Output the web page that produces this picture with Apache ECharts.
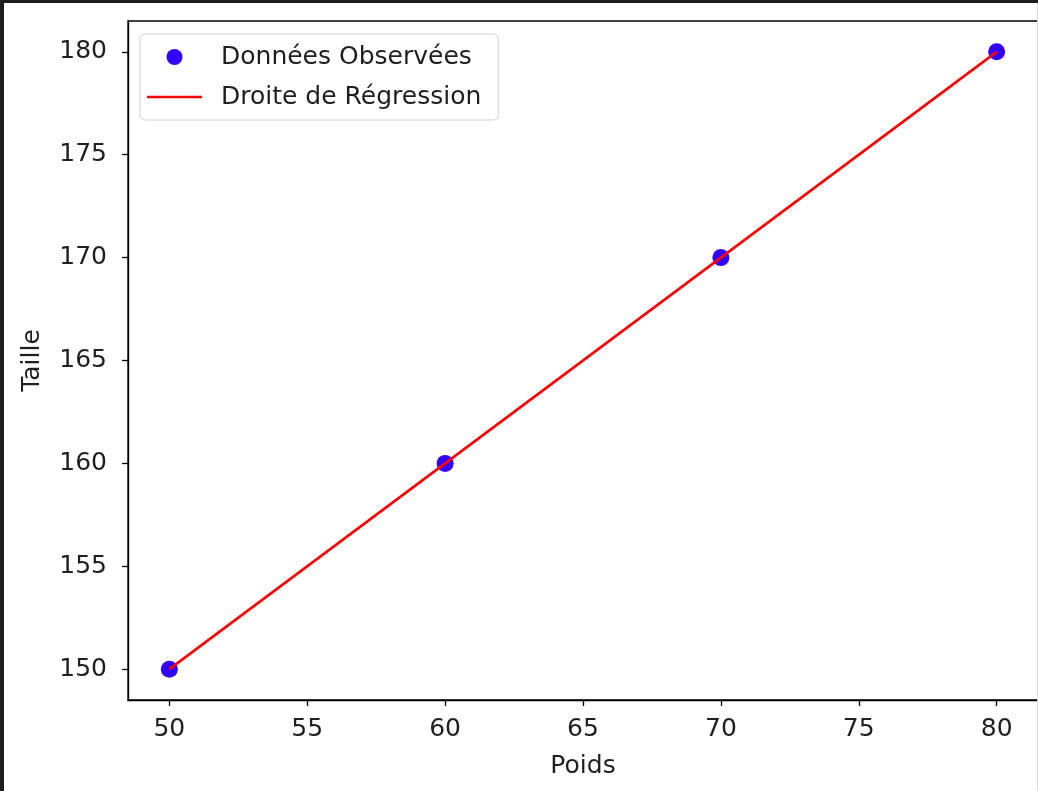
<!DOCTYPE html>
<html>
<head>
<meta charset="utf-8">
<script src="https://cdn.jsdelivr.net/npm/echarts@6/dist/echarts.min.js"></script>
<style>
  html, body { margin: 0; padding: 0; background: #fff; }
  #chart { position: absolute; left: 0; top: 0; width: 1038px; height: 791px; }
  .frame { position: absolute; background: #1e1e1e; z-index: 10; }
</style>
</head>
<body>
<div id="chart"></div>
<div class="frame" style="left:0;top:0;width:4px;height:791px;"></div>
<div class="frame" style="left:0;top:0;width:1038px;height:3px;"></div>
<div class="frame" style="left:1037px;top:3px;width:1px;height:788px;background:#d9d9d9;"></div>
<script>
// Data
const poids = [50, 60, 70, 80];
const taille = [150, 160, 170, 180];
const regressionTaille = [150, 160, 170, 180];
const xTicks = [50, 55, 60, 65, 70, 75, 80];
const yTicks = [150, 155, 160, 165, 170, 175, 180];
const seriesNames = ['Données Observées', 'Droite de Régression'];
const axisNames = { x: 'Poids', y: 'Taille' };

const FONT = 'DejaVu Sans';
const TXT = '#1f1f1f';
const FS = 25;

const chart = echarts.init(document.getElementById('chart'), null, { renderer: 'canvas' });

const option = {
  animation: false,
  backgroundColor: '#ffffff',
  textStyle: { fontFamily: FONT },
  grid: {
    left: 128, top: 21, right: 0, bottom: 91,
    show: true, borderColor: '#000', borderWidth: 1.3, backgroundColor: 'transparent'
  },
  legend: {
    left: 140, top: 34,
    orient: 'vertical',
    padding: [10, 17, 10, 7],
    itemWidth: 55, itemHeight: 16, itemGap: 14,
    symbolKeepAspect: true,
    backgroundColor: '#ffffff',
    borderColor: '#d0d0d0', borderWidth: 1, borderRadius: 5,
    textStyle: { fontFamily: FONT, fontSize: FS, color: TXT, lineHeight: 26, padding: [0, 0, 0, 14] },
    data: [
      { name: seriesNames[0], icon: 'circle' },
      { name: seriesNames[1], icon: 'path://M0,0L55,0L55,2.6L0,2.6Z', itemStyle: { color: '#ff0000' } }
    ]
  },
  xAxis: {
    type: 'value', min: 48.5, max: 81.5,
    name: axisNames.x, nameLocation: 'middle', nameGap: 54,
    nameTextStyle: { fontFamily: FONT, fontSize: FS, color: TXT },
    axisLine: { show: true, lineStyle: { color: '#000', width: 1.3 } },
    axisTick: { show: true, length: 6, lineStyle: { color: '#000', width: 1.3 }, customValues: xTicks },
    axisLabel: { fontFamily: FONT, fontSize: FS, color: TXT, margin: 17, customValues: xTicks },
    splitLine: { show: false }
  },
  yAxis: {
    type: 'value', min: 148.5, max: 181.5,
    name: axisNames.y, nameLocation: 'middle', nameGap: 83, nameRotate: 90,
    nameTextStyle: { fontFamily: FONT, fontSize: FS, color: TXT },
    axisLine: { show: true, lineStyle: { color: '#000', width: 1.3 } },
    axisTick: { show: true, length: 6, lineStyle: { color: '#000', width: 1.3 }, customValues: yTicks },
    axisLabel: { fontFamily: FONT, fontSize: FS, color: TXT, margin: 21, customValues: yTicks },
    splitLine: { show: false }
  },
  series: [
    {
      name: seriesNames[0], type: 'scatter',
      data: poids.map((x, i) => [x, taille[i]]),
      symbol: 'circle', symbolSize: 17,
      itemStyle: { color: '#3300ff', opacity: 1 },
      z: 2
    },
    {
      name: seriesNames[1], type: 'line',
      data: poids.map((x, i) => [x, regressionTaille[i]]),
      symbol: 'none', showSymbol: false,
      lineStyle: { color: '#ff0000', width: 2.6 },
      itemStyle: { color: '#ff0000' },
      z: 3
    }
  ]
};
chart.setOption(option);
</script>
</body>
</html>
